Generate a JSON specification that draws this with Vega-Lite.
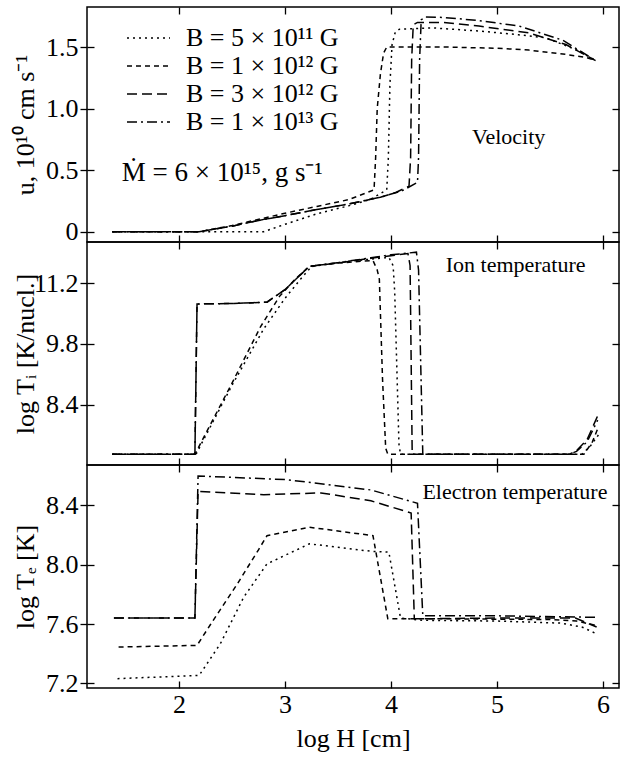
{
  "$schema": "https://vega.github.io/schema/vega-lite/v6.json",
  "autosize": {"type": "pad"},
  "padding": {"left": 11, "top": 5, "right": 0, "bottom": 0},
  "background": "white",
  "config": {
    "font": "Liberation Serif",
    "view": {"stroke": "black", "strokeWidth": 1.5},
    "axis": {
      "grid": false, "domain": false, "tickColor": "black", "tickWidth": 1.3,
      "labelFont": "Liberation Serif", "labelFontSize": 26, "labelColor": "black",
      "titleFont": "Liberation Serif", "titleFontSize": 26, "titleFontWeight": "normal", "titleColor": "black"
    },
    "line": {"stroke": "black", "strokeWidth": 1.5},
    "text": {"font": "Liberation Serif", "color": "black", "align": "left", "baseline": "alphabetic"}
  },
  "datasets": {
    "velocity": [
      {"B": "B = 5 × 10¹¹ G", "logH": 1.37, "v": 0}, {"B": "B = 5 × 10¹¹ G", "logH": 2.2, "v": 0},
      {"B": "B = 5 × 10¹¹ G", "logH": 2.8, "v": 0}, {"B": "B = 5 × 10¹¹ G", "logH": 3.0, "v": 0.06},
      {"B": "B = 5 × 10¹¹ G", "logH": 3.3, "v": 0.145}, {"B": "B = 5 × 10¹¹ G", "logH": 3.6, "v": 0.21},
      {"B": "B = 5 × 10¹¹ G", "logH": 3.8, "v": 0.26}, {"B": "B = 5 × 10¹¹ G", "logH": 3.96, "v": 0.34},
      {"B": "B = 5 × 10¹¹ G", "logH": 3.975, "v": 0.6}, {"B": "B = 5 × 10¹¹ G", "logH": 3.99, "v": 1.2},
      {"B": "B = 5 × 10¹¹ G", "logH": 4.01, "v": 1.52}, {"B": "B = 5 × 10¹¹ G", "logH": 4.04, "v": 1.62},
      {"B": "B = 5 × 10¹¹ G", "logH": 4.08, "v": 1.645}, {"B": "B = 5 × 10¹¹ G", "logH": 4.4, "v": 1.655},
      {"B": "B = 5 × 10¹¹ G", "logH": 4.83, "v": 1.63}, {"B": "B = 5 × 10¹¹ G", "logH": 5.2, "v": 1.6},
      {"B": "B = 5 × 10¹¹ G", "logH": 5.46, "v": 1.575}, {"B": "B = 5 × 10¹¹ G", "logH": 5.77, "v": 1.47},
      {"B": "B = 5 × 10¹¹ G", "logH": 5.93, "v": 1.39},

      {"B": "B = 1 × 10¹² G", "logH": 1.37, "v": 0}, {"B": "B = 1 × 10¹² G", "logH": 2.19, "v": 0},
      {"B": "B = 1 × 10¹² G", "logH": 2.5, "v": 0.05}, {"B": "B = 1 × 10¹² G", "logH": 2.8, "v": 0.11},
      {"B": "B = 1 × 10¹² G", "logH": 3.0, "v": 0.15}, {"B": "B = 1 × 10¹² G", "logH": 3.3, "v": 0.205},
      {"B": "B = 1 × 10¹² G", "logH": 3.6, "v": 0.26}, {"B": "B = 1 × 10¹² G", "logH": 3.84, "v": 0.34},
      {"B": "B = 1 × 10¹² G", "logH": 3.855, "v": 0.6}, {"B": "B = 1 × 10¹² G", "logH": 3.87, "v": 1.0},
      {"B": "B = 1 × 10¹² G", "logH": 3.9, "v": 1.28}, {"B": "B = 1 × 10¹² G", "logH": 3.93, "v": 1.45},
      {"B": "B = 1 × 10¹² G", "logH": 3.96, "v": 1.5}, {"B": "B = 1 × 10¹² G", "logH": 4.5, "v": 1.5},
      {"B": "B = 1 × 10¹² G", "logH": 5.0, "v": 1.49}, {"B": "B = 1 × 10¹² G", "logH": 5.3, "v": 1.475},
      {"B": "B = 1 × 10¹² G", "logH": 5.65, "v": 1.44}, {"B": "B = 1 × 10¹² G", "logH": 5.84, "v": 1.415},
      {"B": "B = 1 × 10¹² G", "logH": 5.93, "v": 1.39},

      {"B": "B = 3 × 10¹² G", "logH": 1.37, "v": 0}, {"B": "B = 3 × 10¹² G", "logH": 2.19, "v": 0},
      {"B": "B = 3 × 10¹² G", "logH": 2.5, "v": 0.045}, {"B": "B = 3 × 10¹² G", "logH": 2.8, "v": 0.1},
      {"B": "B = 3 × 10¹² G", "logH": 3.0, "v": 0.13}, {"B": "B = 3 × 10¹² G", "logH": 3.3, "v": 0.18},
      {"B": "B = 3 × 10¹² G", "logH": 3.6, "v": 0.225}, {"B": "B = 3 × 10¹² G", "logH": 3.9, "v": 0.28},
      {"B": "B = 3 × 10¹² G", "logH": 4.05, "v": 0.32}, {"B": "B = 3 × 10¹² G", "logH": 4.17, "v": 0.37},
      {"B": "B = 3 × 10¹² G", "logH": 4.185, "v": 0.6}, {"B": "B = 3 × 10¹² G", "logH": 4.195, "v": 1.4},
      {"B": "B = 3 × 10¹² G", "logH": 4.21, "v": 1.68}, {"B": "B = 3 × 10¹² G", "logH": 4.25, "v": 1.7},
      {"B": "B = 3 × 10¹² G", "logH": 4.5, "v": 1.7}, {"B": "B = 3 × 10¹² G", "logH": 4.83, "v": 1.67},
      {"B": "B = 3 × 10¹² G", "logH": 5.3, "v": 1.615}, {"B": "B = 3 × 10¹² G", "logH": 5.65, "v": 1.52},
      {"B": "B = 3 × 10¹² G", "logH": 5.93, "v": 1.39},

      {"B": "B = 1 × 10¹³ G", "logH": 1.37, "v": 0}, {"B": "B = 1 × 10¹³ G", "logH": 2.19, "v": 0},
      {"B": "B = 1 × 10¹³ G", "logH": 2.5, "v": 0.045}, {"B": "B = 1 × 10¹³ G", "logH": 2.8, "v": 0.1},
      {"B": "B = 1 × 10¹³ G", "logH": 3.0, "v": 0.13}, {"B": "B = 1 × 10¹³ G", "logH": 3.3, "v": 0.18},
      {"B": "B = 1 × 10¹³ G", "logH": 3.6, "v": 0.225}, {"B": "B = 1 × 10¹³ G", "logH": 3.9, "v": 0.28},
      {"B": "B = 1 × 10¹³ G", "logH": 4.1, "v": 0.33}, {"B": "B = 1 × 10¹³ G", "logH": 4.25, "v": 0.4},
      {"B": "B = 1 × 10¹³ G", "logH": 4.26, "v": 0.6}, {"B": "B = 1 × 10¹³ G", "logH": 4.27, "v": 1.4},
      {"B": "B = 1 × 10¹³ G", "logH": 4.285, "v": 1.72}, {"B": "B = 1 × 10¹³ G", "logH": 4.32, "v": 1.745},
      {"B": "B = 1 × 10¹³ G", "logH": 4.5, "v": 1.74}, {"B": "B = 1 × 10¹³ G", "logH": 4.83, "v": 1.715},
      {"B": "B = 1 × 10¹³ G", "logH": 5.21, "v": 1.67}, {"B": "B = 1 × 10¹³ G", "logH": 5.62, "v": 1.555},
      {"B": "B = 1 × 10¹³ G", "logH": 5.93, "v": 1.39}
    ],
    "ion": [
      {"B": "B = 5 × 10¹¹ G", "logH": 1.37, "v": 7.263}, {"B": "B = 5 × 10¹¹ G", "logH": 2.16, "v": 7.263},
      {"B": "B = 5 × 10¹¹ G", "logH": 2.5, "v": 8.85}, {"B": "B = 5 × 10¹¹ G", "logH": 2.8, "v": 10.15},
      {"B": "B = 5 × 10¹¹ G", "logH": 3.0, "v": 10.85}, {"B": "B = 5 × 10¹¹ G", "logH": 3.15, "v": 11.3},
      {"B": "B = 5 × 10¹¹ G", "logH": 3.25, "v": 11.58}, {"B": "B = 5 × 10¹¹ G", "logH": 3.6, "v": 11.7},
      {"B": "B = 5 × 10¹¹ G", "logH": 3.98, "v": 11.79}, {"B": "B = 5 × 10¹¹ G", "logH": 4.02, "v": 11.6},
      {"B": "B = 5 × 10¹¹ G", "logH": 4.035, "v": 11.0}, {"B": "B = 5 × 10¹¹ G", "logH": 4.075, "v": 7.5},
      {"B": "B = 5 × 10¹¹ G", "logH": 4.09, "v": 7.263}, {"B": "B = 5 × 10¹¹ G", "logH": 5.8, "v": 7.263},
      {"B": "B = 5 × 10¹¹ G", "logH": 5.88, "v": 7.45}, {"B": "B = 5 × 10¹¹ G", "logH": 5.96, "v": 7.72},

      {"B": "B = 1 × 10¹² G", "logH": 1.37, "v": 7.263}, {"B": "B = 1 × 10¹² G", "logH": 2.15, "v": 7.263},
      {"B": "B = 1 × 10¹² G", "logH": 2.5, "v": 8.9}, {"B": "B = 1 × 10¹² G", "logH": 2.77, "v": 10.2},
      {"B": "B = 1 × 10¹² G", "logH": 2.95, "v": 10.9}, {"B": "B = 1 × 10¹² G", "logH": 3.1, "v": 11.3},
      {"B": "B = 1 × 10¹² G", "logH": 3.23, "v": 11.585}, {"B": "B = 1 × 10¹² G", "logH": 3.5, "v": 11.66},
      {"B": "B = 1 × 10¹² G", "logH": 3.83, "v": 11.72}, {"B": "B = 1 × 10¹² G", "logH": 3.87, "v": 11.5},
      {"B": "B = 1 × 10¹² G", "logH": 3.89, "v": 11.29}, {"B": "B = 1 × 10¹² G", "logH": 3.92, "v": 9.0},
      {"B": "B = 1 × 10¹² G", "logH": 3.95, "v": 7.4}, {"B": "B = 1 × 10¹² G", "logH": 3.97, "v": 7.263},
      {"B": "B = 1 × 10¹² G", "logH": 5.82, "v": 7.263}, {"B": "B = 1 × 10¹² G", "logH": 5.9, "v": 7.55},
      {"B": "B = 1 × 10¹² G", "logH": 5.95, "v": 7.85},

      {"B": "B = 3 × 10¹² G", "logH": 1.37, "v": 7.263}, {"B": "B = 3 × 10¹² G", "logH": 2.15, "v": 7.263},
      {"B": "B = 3 × 10¹² G", "logH": 2.17, "v": 10.72}, {"B": "B = 3 × 10¹² G", "logH": 2.5, "v": 10.73},
      {"B": "B = 3 × 10¹² G", "logH": 2.83, "v": 10.76}, {"B": "B = 3 × 10¹² G", "logH": 3.0, "v": 11.05},
      {"B": "B = 3 × 10¹² G", "logH": 3.23, "v": 11.585}, {"B": "B = 3 × 10¹² G", "logH": 3.5, "v": 11.66},
      {"B": "B = 3 × 10¹² G", "logH": 3.81, "v": 11.77}, {"B": "B = 3 × 10¹² G", "logH": 4.16, "v": 11.88},
      {"B": "B = 3 × 10¹² G", "logH": 4.18, "v": 11.6}, {"B": "B = 3 × 10¹² G", "logH": 4.2, "v": 7.263},
      {"B": "B = 3 × 10¹² G", "logH": 5.68, "v": 7.263}, {"B": "B = 3 × 10¹² G", "logH": 5.75, "v": 7.35},
      {"B": "B = 3 × 10¹² G", "logH": 5.85, "v": 7.6}, {"B": "B = 3 × 10¹² G", "logH": 5.95, "v": 8.15},

      {"B": "B = 1 × 10¹³ G", "logH": 1.37, "v": 7.263}, {"B": "B = 1 × 10¹³ G", "logH": 2.15, "v": 7.263},
      {"B": "B = 1 × 10¹³ G", "logH": 2.17, "v": 10.72}, {"B": "B = 1 × 10¹³ G", "logH": 2.5, "v": 10.73},
      {"B": "B = 1 × 10¹³ G", "logH": 2.83, "v": 10.76}, {"B": "B = 1 × 10¹³ G", "logH": 3.0, "v": 11.05},
      {"B": "B = 1 × 10¹³ G", "logH": 3.23, "v": 11.585}, {"B": "B = 1 × 10¹³ G", "logH": 3.5, "v": 11.67},
      {"B": "B = 1 × 10¹³ G", "logH": 3.81, "v": 11.78}, {"B": "B = 1 × 10¹³ G", "logH": 4.0, "v": 11.85},
      {"B": "B = 1 × 10¹³ G", "logH": 4.24, "v": 11.91}, {"B": "B = 1 × 10¹³ G", "logH": 4.26, "v": 11.5},
      {"B": "B = 1 × 10¹³ G", "logH": 4.3, "v": 7.263}, {"B": "B = 1 × 10¹³ G", "logH": 5.68, "v": 7.263},
      {"B": "B = 1 × 10¹³ G", "logH": 5.75, "v": 7.33}, {"B": "B = 1 × 10¹³ G", "logH": 5.85, "v": 7.55},
      {"B": "B = 1 × 10¹³ G", "logH": 5.95, "v": 8.05}
    ],
    "electron": [
      {"B": "B = 5 × 10¹¹ G", "logH": 1.42, "v": 7.232}, {"B": "B = 5 × 10¹¹ G", "logH": 2.19, "v": 7.254},
      {"B": "B = 5 × 10¹¹ G", "logH": 2.39, "v": 7.467}, {"B": "B = 5 × 10¹¹ G", "logH": 2.61, "v": 7.78},
      {"B": "B = 5 × 10¹¹ G", "logH": 2.83, "v": 8.005}, {"B": "B = 5 × 10¹¹ G", "logH": 3.23, "v": 8.14},
      {"B": "B = 5 × 10¹¹ G", "logH": 3.81, "v": 8.09}, {"B": "B = 5 × 10¹¹ G", "logH": 3.98, "v": 8.084},
      {"B": "B = 5 × 10¹¹ G", "logH": 4.09, "v": 7.64}, {"B": "B = 5 × 10¹¹ G", "logH": 4.3, "v": 7.625},
      {"B": "B = 5 × 10¹¹ G", "logH": 5.0, "v": 7.62}, {"B": "B = 5 × 10¹¹ G", "logH": 5.6, "v": 7.606},
      {"B": "B = 5 × 10¹¹ G", "logH": 5.8, "v": 7.58}, {"B": "B = 5 × 10¹¹ G", "logH": 5.94, "v": 7.534},

      {"B": "B = 1 × 10¹² G", "logH": 1.43, "v": 7.445}, {"B": "B = 1 × 10¹² G", "logH": 2.17, "v": 7.456},
      {"B": "B = 1 × 10¹² G", "logH": 2.3, "v": 7.6}, {"B": "B = 1 × 10¹² G", "logH": 2.55, "v": 7.87},
      {"B": "B = 1 × 10¹² G", "logH": 2.75, "v": 8.1}, {"B": "B = 1 × 10¹² G", "logH": 2.83, "v": 8.195},
      {"B": "B = 1 × 10¹² G", "logH": 3.23, "v": 8.252}, {"B": "B = 1 × 10¹² G", "logH": 3.83, "v": 8.195},
      {"B": "B = 1 × 10¹² G", "logH": 3.97, "v": 7.635}, {"B": "B = 1 × 10¹² G", "logH": 4.5, "v": 7.635},
      {"B": "B = 1 × 10¹² G", "logH": 5.5, "v": 7.63}, {"B": "B = 1 × 10¹² G", "logH": 5.75, "v": 7.62},
      {"B": "B = 1 × 10¹² G", "logH": 5.94, "v": 7.59},

      {"B": "B = 3 × 10¹² G", "logH": 1.386, "v": 7.64}, {"B": "B = 3 × 10¹² G", "logH": 2.15, "v": 7.64},
      {"B": "B = 3 × 10¹² G", "logH": 2.18, "v": 8.494}, {"B": "B = 3 × 10¹² G", "logH": 2.8, "v": 8.471},
      {"B": "B = 3 × 10¹² G", "logH": 3.34, "v": 8.483}, {"B": "B = 3 × 10¹² G", "logH": 3.81, "v": 8.43},
      {"B": "B = 3 × 10¹² G", "logH": 4.19, "v": 8.348}, {"B": "B = 3 × 10¹² G", "logH": 4.22, "v": 7.635},
      {"B": "B = 3 × 10¹² G", "logH": 5.0, "v": 7.64}, {"B": "B = 3 × 10¹² G", "logH": 5.74, "v": 7.64},
      {"B": "B = 3 × 10¹² G", "logH": 5.94, "v": 7.58},

      {"B": "B = 1 × 10¹³ G", "logH": 1.386, "v": 7.64}, {"B": "B = 1 × 10¹³ G", "logH": 2.15, "v": 7.64},
      {"B": "B = 1 × 10¹³ G", "logH": 2.18, "v": 8.597}, {"B": "B = 1 × 10¹³ G", "logH": 3.02, "v": 8.572},
      {"B": "B = 1 × 10¹³ G", "logH": 3.81, "v": 8.503}, {"B": "B = 1 × 10¹³ G", "logH": 4.25, "v": 8.413},
      {"B": "B = 1 × 10¹³ G", "logH": 4.3, "v": 7.655}, {"B": "B = 1 × 10¹³ G", "logH": 5.0, "v": 7.655},
      {"B": "B = 1 × 10¹³ G", "logH": 5.93, "v": 7.645}
    ]
  },
  "vconcat": [
    {
      "width": 532, "height": 235,
      "data": {"name": "velocity"},
      "layer": [
        {
          "mark": {"type": "line", "strokeWidth": 1.5},
          "encoding": {
            "x": {"field": "logH", "type": "quantitative", "scale": {"domain": [1.132, 6.151], "nice": false, "zero": false},
                  "axis": {"orient": "bottom", "values": [2, 3, 4, 5, 6], "labels": false, "title": null, "tickSize": -7, "minExtent": 0, "maxExtent": 0}},
            "y": {"field": "v", "type": "quantitative", "scale": {"domain": [-0.0837, 1.825], "nice": false, "zero": false},
                  "axis": {"orient": "left", "values": [0, 0.5, 1, 1.5], "labelExpr": "datum.value == 0 ? '0' : format(datum.value, '.1f')",
                           "tickSize": 7, "labelPadding": 2, "minExtent": 44, "maxExtent": 44, "titlePadding": 5,
                           "title": "u, 10¹⁰ cm s⁻¹"}},
            "strokeDash": {"field": "B", "type": "nominal",
                           "scale": {"domain": ["B = 5 × 10¹¹ G", "B = 1 × 10¹² G", "B = 3 × 10¹² G", "B = 1 × 10¹³ G"],
                                     "range": [[2, 4], [5, 4], [10, 5], [10, 4, 2, 4]]},
                           "legend": {"orient": "none", "legendX": 39, "legendY": 18, "title": null, "padding": 0,
                                      "symbolType": "stroke", "symbolSize": 1849, "symbolStrokeWidth": 1.5, "symbolStrokeColor": "black",
                                      "labelFont": "Liberation Serif", "labelFontSize": 26, "labelColor": "black", "labelOffset": 15,
                                      "clipHeight": 26, "rowPadding": 2, "labelLimit": 400}}
          }
        },
        {
          "mark": {"type": "line", "opacity": 0},
          "encoding": {
            "x": {"field": "logH", "type": "quantitative", "scale": {"domain": [1.132, 6.151], "nice": false, "zero": false},
                  "axis": {"orient": "top", "values": [2, 3, 4, 5, 6], "labels": false, "title": null, "tickSize": -7, "minExtent": 0, "maxExtent": 0}},
            "y": {"field": "v", "type": "quantitative", "scale": {"domain": [-0.0837, 1.825], "nice": false, "zero": false},
                  "axis": {"orient": "right", "values": [0, 0.5, 1, 1.5], "labels": false, "title": null, "tickSize": -7, "minExtent": 0, "maxExtent": 0}},
            "detail": {"field": "B"}
          }
        },
        {
          "mark": {"type": "line", "opacity": 0},
          "encoding": {
            "x": {"field": "logH", "type": "quantitative", "scale": {"domain": [1.132, 6.151], "nice": false, "zero": false}, "axis": null},
            "y": {"field": "v", "type": "quantitative", "scale": {"domain": [-0.0837, 1.825], "nice": false, "zero": false},
                  "axis": {"orient": "left", "values": [0, 0.5, 1, 1.5], "labels": false, "title": null, "tickSize": -7, "minExtent": 0, "maxExtent": 0}},
            "detail": {"field": "B"}
          }
        },
        {
          "data": {"values": [{"note": "Velocity"}]},
          "mark": {"type": "text", "fontSize": 22},
          "encoding": {
            "x": {"datum": 4.764, "type": "quantitative", "scale": {"domain": [1.132, 6.151], "nice": false, "zero": false}, "axis": null},
            "y": {"datum": 0.712, "type": "quantitative", "scale": {"domain": [-0.0837, 1.825], "nice": false, "zero": false}, "axis": null},
            "text": {"field": "note"}
          }
        },
        {
          "data": {"values": [{"note": "Ṁ = 6 × 10¹⁵, g s⁻¹"}]},
          "mark": {"type": "text", "fontSize": 27},
          "encoding": {
            "x": {"datum": 1.46, "type": "quantitative", "scale": {"domain": [1.132, 6.151], "nice": false, "zero": false}, "axis": null},
            "y": {"datum": 0.415, "type": "quantitative", "scale": {"domain": [-0.0837, 1.825], "nice": false, "zero": false}, "axis": null},
            "text": {"field": "note"}
          }
        }
      ],
      "resolve": {"axis": {"x": "independent", "y": "independent"}}
    },
    {
      "width": 532, "height": 223,
      "data": {"name": "ion"},
      "layer": [
        {
          "mark": {"type": "line", "strokeWidth": 1.5},
          "encoding": {
            "x": {"field": "logH", "type": "quantitative", "scale": {"domain": [1.132, 6.151], "nice": false, "zero": false},
                  "axis": {"orient": "bottom", "values": [2, 3, 4, 5, 6], "labels": false, "title": null, "tickSize": -7, "minExtent": 0, "maxExtent": 0}},
            "y": {"field": "v", "type": "quantitative", "scale": {"domain": [7.018, 12.144], "nice": false, "zero": false},
                  "axis": {"orient": "left", "values": [8.4, 9.8, 11.2], "format": ".1f",
                           "tickSize": 7, "labelPadding": 2, "minExtent": 44, "maxExtent": 44, "titlePadding": 5,
                           "title": "log Tᵢ [K/nucl.]"}},
            "strokeDash": {"field": "B", "type": "nominal",
                           "scale": {"domain": ["B = 5 × 10¹¹ G", "B = 1 × 10¹² G", "B = 3 × 10¹² G", "B = 1 × 10¹³ G"],
                                     "range": [[2, 4], [5, 4], [10, 5], [10, 4, 2, 4]]},
                           "legend": null}
          }
        },
        {
          "mark": {"type": "line", "opacity": 0},
          "encoding": {
            "x": {"field": "logH", "type": "quantitative", "scale": {"domain": [1.132, 6.151], "nice": false, "zero": false},
                  "axis": {"orient": "top", "values": [2, 3, 4, 5, 6], "labels": false, "title": null, "tickSize": -7, "minExtent": 0, "maxExtent": 0}},
            "y": {"field": "v", "type": "quantitative", "scale": {"domain": [7.018, 12.144], "nice": false, "zero": false},
                  "axis": {"orient": "right", "values": [8.4, 9.8, 11.2], "labels": false, "title": null, "tickSize": -7, "minExtent": 0, "maxExtent": 0}},
            "detail": {"field": "B"}
          }
        },
        {
          "mark": {"type": "line", "opacity": 0},
          "encoding": {
            "x": {"field": "logH", "type": "quantitative", "scale": {"domain": [1.132, 6.151], "nice": false, "zero": false}, "axis": null},
            "y": {"field": "v", "type": "quantitative", "scale": {"domain": [7.018, 12.144], "nice": false, "zero": false},
                  "axis": {"orient": "left", "values": [8.4, 9.8, 11.2], "labels": false, "title": null, "tickSize": -7, "minExtent": 0, "maxExtent": 0}},
            "detail": {"field": "B"}
          }
        },
        {
          "data": {"values": [{"note": "Ion temperature"}]},
          "mark": {"type": "text", "fontSize": 22},
          "encoding": {
            "x": {"datum": 4.516, "type": "quantitative", "scale": {"domain": [1.132, 6.151], "nice": false, "zero": false}, "axis": null},
            "y": {"datum": 11.46, "type": "quantitative", "scale": {"domain": [7.018, 12.144], "nice": false, "zero": false}, "axis": null},
            "text": {"field": "note"}
          }
        }
      ],
      "resolve": {"axis": {"x": "independent", "y": "independent"}}
    },
    {
      "width": 532, "height": 223,
      "data": {"name": "electron"},
      "layer": [
        {
          "mark": {"type": "line", "strokeWidth": 1.5},
          "encoding": {
            "x": {"field": "logH", "type": "quantitative", "scale": {"domain": [1.132, 6.151], "nice": false, "zero": false},
                  "axis": {"orient": "bottom", "values": [2, 3, 4, 5, 6], "format": "d", "tickSize": -7, "labelPadding": 10,
                           "titlePadding": 8, "title": "log H [cm]"}},
            "y": {"field": "v", "type": "quantitative", "scale": {"domain": [7.169, 8.671], "nice": false, "zero": false},
                  "axis": {"orient": "left", "values": [7.2, 7.6, 8.0, 8.4], "format": ".1f",
                           "tickSize": 7, "labelPadding": 2, "minExtent": 44, "maxExtent": 44, "titlePadding": 5,
                           "title": "log Tₑ [K]"}},
            "strokeDash": {"field": "B", "type": "nominal",
                           "scale": {"domain": ["B = 5 × 10¹¹ G", "B = 1 × 10¹² G", "B = 3 × 10¹² G", "B = 1 × 10¹³ G"],
                                     "range": [[2, 4], [5, 4], [10, 5], [10, 4, 2, 4]]},
                           "legend": null}
          }
        },
        {
          "mark": {"type": "line", "opacity": 0},
          "encoding": {
            "x": {"field": "logH", "type": "quantitative", "scale": {"domain": [1.132, 6.151], "nice": false, "zero": false},
                  "axis": {"orient": "top", "values": [2, 3, 4, 5, 6], "labels": false, "title": null, "tickSize": -7, "minExtent": 0, "maxExtent": 0}},
            "y": {"field": "v", "type": "quantitative", "scale": {"domain": [7.169, 8.671], "nice": false, "zero": false},
                  "axis": {"orient": "right", "values": [7.2, 7.6, 8.0, 8.4], "labels": false, "title": null, "tickSize": -7, "minExtent": 0, "maxExtent": 0}},
            "detail": {"field": "B"}
          }
        },
        {
          "mark": {"type": "line", "opacity": 0},
          "encoding": {
            "x": {"field": "logH", "type": "quantitative", "scale": {"domain": [1.132, 6.151], "nice": false, "zero": false}, "axis": null},
            "y": {"field": "v", "type": "quantitative", "scale": {"domain": [7.169, 8.671], "nice": false, "zero": false},
                  "axis": {"orient": "left", "values": [7.2, 7.6, 8.0, 8.4], "labels": false, "title": null, "tickSize": -7, "minExtent": 0, "maxExtent": 0}},
            "detail": {"field": "B"}
          }
        },
        {
          "data": {"values": [{"note": "Electron temperature"}]},
          "mark": {"type": "text", "fontSize": 22},
          "encoding": {
            "x": {"datum": 4.296, "type": "quantitative", "scale": {"domain": [1.132, 6.151], "nice": false, "zero": false}, "axis": null},
            "y": {"datum": 8.442, "type": "quantitative", "scale": {"domain": [7.169, 8.671], "nice": false, "zero": false}, "axis": null},
            "text": {"field": "note"}
          }
        }
      ],
      "resolve": {"axis": {"x": "independent", "y": "independent"}}
    }
  ],
  "spacing": 0,
  "bounds": "flush",
  "resolve": {"scale": {"strokeDash": "independent"}, "legend": {"strokeDash": "independent"}}
}
